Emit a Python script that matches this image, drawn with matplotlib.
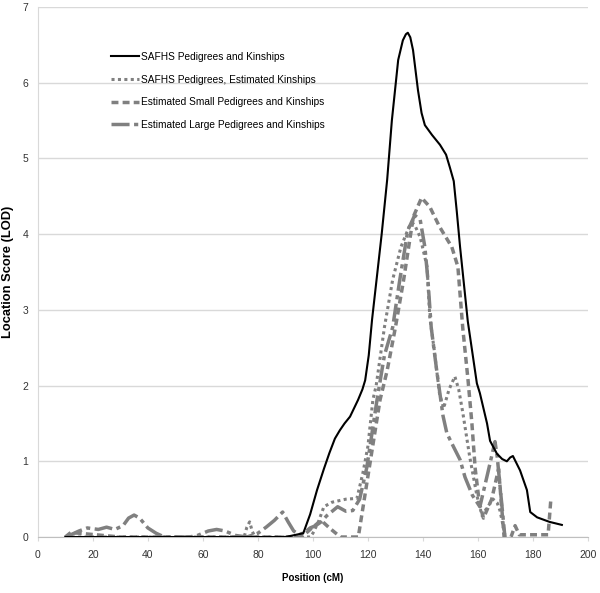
import matplotlib
matplotlib.use('Agg')
import matplotlib.pyplot as plt

plt.rcParams['font.family'] = ['Liberation Sans', 'DejaVu Sans']

# SAFHS Pedigrees and Kinships
safhs_pos = [10, 20, 30, 40, 50, 60, 70, 80, 90, 96.5, 99, 101.5, 104, 106, 108, 109.8,
             111.5, 113.5, 116.4, 118, 119, 120.3, 121.5, 123.3, 125, 127, 128.7, 131,
             132.7, 133.8, 134.5, 135.4, 136.4, 138.2, 139.5, 140.7, 143.3,
             146.2, 148.4, 149.8, 151.2, 152.3, 153.5, 156.3, 159.6, 160.7, 163.3, 164.4,
             166.9, 168.8, 170.5, 171.7, 172.7, 175.3, 177.8, 179, 181.5, 186, 190.5]
safhs_lod = [0, 0, 0, 0, 0, 0, 0, 0, 0, 0.05, 0.3, 0.62, 0.9, 1.11, 1.3, 1.41,
             1.5, 1.59, 1.81, 1.95, 2.07, 2.4, 2.87, 3.45, 4.0, 4.72, 5.5, 6.3,
             6.56, 6.64, 6.66, 6.6, 6.43, 5.9, 5.6, 5.44, 5.31,
             5.18, 5.05, 4.88, 4.7, 4.3, 3.83, 2.85, 2.03, 1.9, 1.5, 1.27,
             1.1, 1.03, 1.0, 1.05, 1.07, 0.88, 0.62, 0.33, 0.26, 0.2, 0.16]

# SAFHS Pedigrees, Estimated Kinships
est_kin_pos = [10, 30, 50, 70, 75, 76, 77, 78, 79, 90, 99, 100, 102, 104, 107, 112, 116,
               118.2, 120, 121.8, 123, 126, 129, 132, 135, 136, 137, 139, 141.5, 142.5,
               144, 146, 147.5, 149.5, 151.6, 153, 154.5, 157, 159.6, 161.5, 163.5, 165.5,
               167, 168, 169.8]
est_kin_lod = [0, 0, 0, 0, 0, 0.13, 0.2, 0.07, 0, 0, 0, 0.05, 0.2, 0.4, 0.46, 0.5, 0.51,
               0.85, 1.2, 1.81, 2.0, 2.77, 3.4, 3.83, 4.1, 4.15, 4.12, 3.96, 3.57, 2.9,
               2.5, 1.9, 1.7, 1.95, 2.12, 1.95, 1.64, 1.06, 0.55, 0.28, 0.4, 0.5,
               0.45, 0.35, 0.03]

# Estimated Small Pedigrees and Kinships
small_pos = [10, 12, 30, 60, 90, 96, 99, 103, 106, 110, 116.5, 119.6, 124.4, 127, 130,
             133, 136.5, 139.5, 142.5, 146, 150.5, 152.7, 154.5, 156.4, 157.8, 159,
             160.5, 162, 165, 167.5, 169.5, 172, 173.5, 175, 185.5, 186.5]
small_lod = [0.0, 0.06, 0, 0, 0, 0.0, 0.1, 0.22, 0.12, 0.0, 0.0, 0.71, 1.81, 2.2, 2.77,
             3.4, 4.23, 4.48, 4.36, 4.1, 3.83, 3.57, 2.75, 2.07, 1.5, 0.9,
             0.45, 0.25, 0.5, 0.9, 0.0, 0.0, 0.15, 0.03, 0.03, 0.5]

# Estimated Large Pedigrees and Kinships
large_pos = [10, 12, 15, 18, 22, 25, 28, 31, 33, 35, 37, 40, 43, 46, 55, 58, 62, 65, 68,
             72, 76, 80, 83, 86, 89, 91, 93, 95, 97, 99, 101, 103, 105, 109, 112, 114.5,
             117, 119.6, 123.3, 126, 129, 131.6, 134.5, 137, 139, 140.7, 141.8, 143, 145,
             147.3, 148.7, 151, 153.5, 155.3, 158, 160.7, 163.6, 166.2, 167, 169.8]
large_lod = [0.0, 0.03, 0.08, 0.12, 0.1, 0.13, 0.1, 0.15, 0.25, 0.29, 0.25, 0.12, 0.05,
             0.0, 0.0, 0.02, 0.08, 0.1, 0.08, 0.02, 0.0, 0.05, 0.13, 0.22, 0.33, 0.2,
             0.08, 0.03, 0.06, 0.12, 0.15, 0.2, 0.28, 0.4, 0.34, 0.35, 0.5, 0.92, 1.81,
             2.4, 2.77, 3.4, 4.05, 4.25, 4.19, 3.83, 3.4, 2.77, 2.2, 1.6, 1.37, 1.2,
             1.02, 0.79, 0.55, 0.4, 0.85, 1.26, 1.06, 0.0]

labels = ['SAFHS Pedigrees and Kinships', 'SAFHS Pedigrees, Estimated Kinships',
          'Estimated Small Pedigrees and Kinships', 'Estimated Large Pedigrees and Kinships']

gray = '#808080'
grid_c = '#d9d9d9'

fig = plt.figure(figsize=(6, 5.93), dpi=100)
ax = fig.add_axes([0.063, 0.0944, 0.917, 0.8938])

ax.plot(safhs_pos, safhs_lod, color='black', lw=1.5, label=labels[0], zorder=5,
        solid_joinstyle='round')
ax.plot(est_kin_pos, est_kin_lod, color=gray, lw=2.2, dashes=(1, 1.1),
        label=labels[1], zorder=4)
ax.plot(small_pos, small_lod, color=gray, lw=2.5, dashes=(2.0, 1.2),
        label=labels[2], zorder=3)
ax.plot(large_pos, large_lod, color=gray, lw=2.5, dashes=(5.2, 1.3, 1.2, 1.3),
        label=labels[3], zorder=3)

ax.set_xlim(0, 200)
ax.set_ylim(0, 7)
ax.set_xticks(range(0, 201, 20))
ax.set_yticks(range(0, 8))
ax.yaxis.grid(True, color=grid_c, lw=1)
ax.set_axisbelow(True)
for s in ['top', 'right']:
    ax.spines[s].set_visible(False)
ax.spines['left'].set_color(grid_c)
ax.spines['bottom'].set_color('#bfbfbf')
ax.tick_params(axis='both', labelsize=7.5, labelcolor='#333333', color=grid_c, length=3)
ax.tick_params(axis='y', length=0, pad=7)
ax.tick_params(axis='x', pad=6)

ax.set_xlabel('Position (cM)', fontsize=7, fontweight='bold', labelpad=10)
ax.set_ylabel('Location Score (LOD)', fontsize=9.3, fontweight='bold')
ax.yaxis.set_label_coords(-0.044, 0.5)

ax.legend(loc='upper left', bbox_to_anchor=(0.177, 0.921), bbox_transform=fig.transFigure,
          frameon=False, fontsize=7.3, handlelength=2.7, handletextpad=0.2,
          labelspacing=1.25, borderpad=0)

fig.savefig('out.png')
